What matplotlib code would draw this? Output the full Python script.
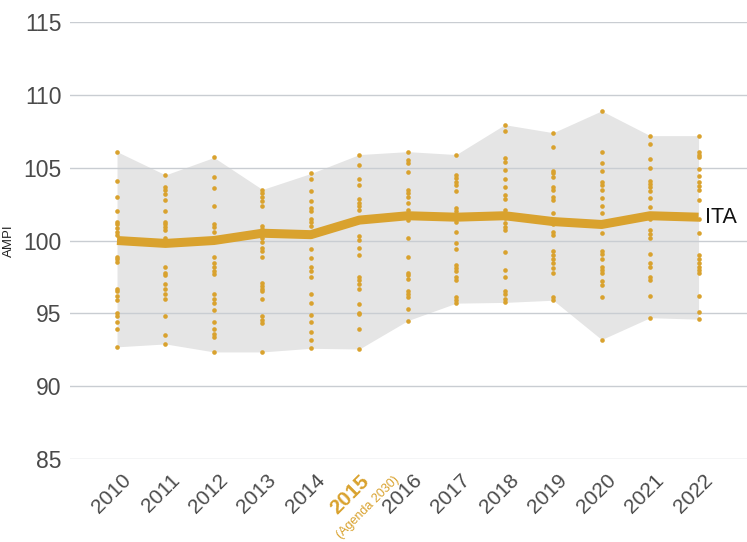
import matplotlib
matplotlib.use("Agg")
import matplotlib.pyplot as plt
import matplotlib.transforms as mtransforms
import numpy as np

years = [2010, 2011, 2012, 2013, 2014, 2015, 2016, 2017, 2018, 2019, 2020, 2021, 2022]

# AMPI of the regions, one list per year
r2010 = [106.1, 104.1, 103.0, 102.0, 101.3, 101.1, 100.85, 100.6, 100.4, 98.9, 98.7,
         98.5, 96.7, 96.5, 96.2, 95.9, 95.0, 94.8, 94.4, 93.9, 92.7]
r2011 = [104.5, 103.7, 103.5, 103.2, 102.75, 102.0, 101.3, 101.1, 100.9, 100.7, 100.2,
         98.2, 97.8, 97.6, 97.0, 96.7, 96.3, 96.0, 94.8, 93.5, 92.9]
r2012 = [105.7, 104.35, 103.6, 102.4, 101.15, 100.9, 100.6, 98.9, 98.45, 98.2, 97.9,
         97.7, 96.3, 96.0, 95.7, 95.2, 94.4, 93.9, 93.6, 93.4, 92.35]
r2013 = [103.5, 103.25, 103.0, 102.7, 102.4, 101.0, 100.8, 100.2, 99.9, 99.5, 99.25,
         98.9, 97.1, 96.85, 96.7, 96.5, 96.0, 94.8, 94.55, 94.35, 92.35]
r2014 = [104.6, 104.2, 103.4, 102.7, 102.2, 102.0, 101.5, 101.3, 101.0, 99.4, 98.8,
         98.15, 97.9, 97.5, 96.3, 95.7, 94.9, 94.4, 93.7, 93.2, 92.6]
r2015 = [105.9, 105.2, 104.2, 103.8, 102.85, 102.6, 102.4, 102.1, 100.3, 100.05, 99.5,
         99.0, 97.5, 97.3, 97.0, 96.7, 95.65, 95.05, 94.95, 93.9, 92.55]
r2016 = [106.1, 105.5, 105.3, 104.7, 103.5, 103.25, 103.0, 102.6, 102.1, 101.8, 101.4,
         100.15, 98.9, 97.8, 97.6, 97.35, 96.5, 96.3, 96.1, 95.3, 94.5]
r2017 = [105.9, 104.5, 104.3, 104.05, 103.8, 103.4, 102.2, 102.0, 101.7, 101.3, 100.6,
         99.8, 99.4, 98.3, 98.1, 97.9, 97.5, 97.3, 96.15, 95.9, 95.7]
r2018 = [107.95, 107.5, 105.65, 105.4, 104.85, 104.2, 103.7, 103.1, 102.85, 102.1, 101.55,
         101.2, 100.95, 100.7, 99.2, 98.0, 97.5, 96.5, 96.3, 96.0, 95.75]
r2019 = [107.4, 106.4, 104.8, 104.6, 104.35, 103.7, 103.5, 103.0, 102.8, 101.9, 101.1,
         100.6, 100.4, 99.25, 99.0, 98.7, 98.45, 98.1, 97.75, 96.15, 95.9]
r2020 = [108.9, 106.05, 105.3, 104.75, 104.05, 103.8, 103.5, 102.9, 102.4, 101.9, 100.5,
         99.3, 99.1, 98.7, 98.2, 98.0, 97.75, 97.2, 96.95, 96.15, 93.2]
r2021 = [107.2, 106.6, 105.6, 105.0, 104.1, 103.9, 103.7, 103.4, 102.9, 102.3, 101.5,
         100.7, 100.45, 100.2, 99.1, 98.45, 98.2, 97.5, 97.3, 96.2, 94.7]
r2022 = [107.2, 106.1, 105.9, 105.7, 104.9, 104.45, 104.05, 103.75, 103.5, 102.8, 101.5,
         100.5, 99.0, 98.7, 98.45, 98.2, 98.0, 97.75, 96.2, 95.1, 94.6]

# National value
ita = [100.0, 99.8, 100.0, 100.5, 100.4, 101.4, 101.7, 101.6, 101.7, 101.3, 101.1, 101.7, 101.6]

y_ticks = [85, 90, 95, 100, 105, 110, 115]
year_labels = ["2010", "2011", "2012", "2013", "2014", "2015", "2016",
               "2017", "2018", "2019", "2020", "2021", "2022"]
highlight_year = 2015
highlight_note = "(Agenda 2030)"
series_label = "ITA"
y_label = "AMPI"

regions = [r2010, r2011, r2012, r2013, r2014, r2015, r2016,
           r2017, r2018, r2019, r2020, r2021, r2022]

GOLD = "#D9A22E"
BAND = "#E5E5E5"
GRID = "#C9CDD2"
TEXT = "#4A4A4A"

plt.rcParams["font.family"] = ["Liberation Sans", "DejaVu Sans"]

fig = plt.figure(figsize=(7.47, 5.42), dpi=100)
ax = fig.add_axes([70 / 747, 83 / 542, 677 / 747, 437 / 542])

lo = [min(v) for v in regions]
hi = [max(v) for v in regions]
ax.fill_between(years, lo, hi, color=BAND, lw=0, zorder=0.2)

for yr, vals in zip(years, regions):
    ax.scatter([yr] * len(vals), vals, s=11, color=GOLD, lw=0, zorder=2)

ax.plot(years, ita, color=GOLD, lw=6.5, solid_capstyle="butt", zorder=3)
ax.text(years[-1], ita[-1], " " + series_label, fontsize=15.5, color="#111111",
        va="center", ha="left", zorder=4)

ax.set_ylim(85, 115)
ax.set_xlim(2009.03, 2023.0)
ax.set_yticks(y_ticks)
ax.set_yticklabels([str(t) for t in y_ticks], fontsize=16.5, color=TEXT)
ax.set_xticks(years)
ax.set_xticklabels([])
ax.tick_params(axis="x", length=0)
ax.tick_params(axis="y", length=0, pad=6)

ax.set_axisbelow(True)
ax.yaxis.grid(True, color=GRID, lw=1.0)
ax.xaxis.grid(False)
for s in ax.spines.values():
    s.set_visible(False)

ax.set_ylabel(y_label, fontsize=9.5, color="#222222")
ax.yaxis.set_label_coords(-0.082, 0.5)

# Rotated year labels below the axis
base = ax.get_xaxis_transform()
def shifted(dx_px, dy_px):
    return base + mtransforms.ScaledTranslation(dx_px / 100, -dy_px / 100, fig.dpi_scale_trans)

for yr, lab in zip(years, year_labels):
    if yr == highlight_year:
        ax.text(yr, 0, lab, transform=shifted(7, 19), fontsize=15, fontweight="bold",
                color=GOLD, rotation=45, ha="right", va="center", rotation_mode="anchor")
        ax.text(yr, 0, highlight_note, transform=shifted(38, 19), fontsize=9,
                color=GOLD, rotation=45, ha="right", va="center", rotation_mode="anchor")
    else:
        ax.text(yr, 0, lab, transform=shifted(11, 18), fontsize=15, color=TEXT,
                rotation=45, ha="right", va="center", rotation_mode="anchor")

fig.savefig("out.png", dpi=100, facecolor="white")
